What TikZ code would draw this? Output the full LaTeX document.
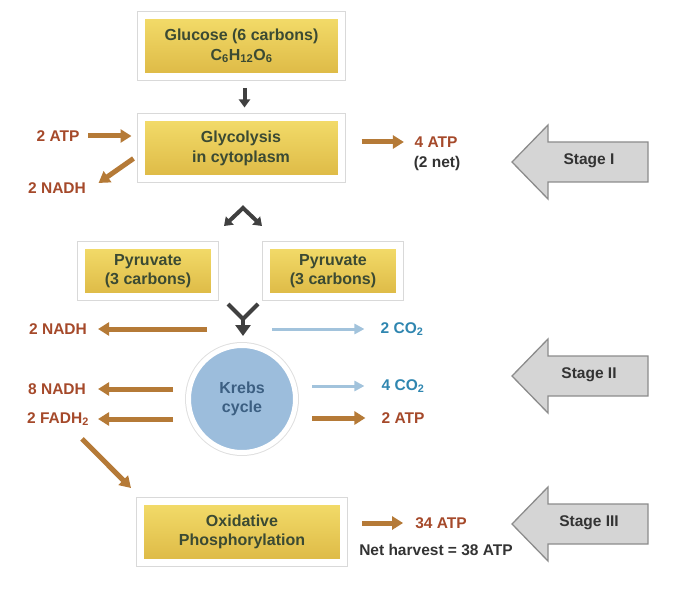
\documentclass[tikz,border=0pt]{standalone}
\usepackage{fontspec}
\setmainfont{Liberation Sans}
\usetikzlibrary{arrows.meta}
\definecolor{brn}{HTML}{B57A37}
\definecolor{brntxt}{HTML}{A5492A}
\definecolor{bluarr}{HTML}{A2C3DC}
\definecolor{tealtxt}{HTML}{2F86B0}
\definecolor{boxtop}{HTML}{F3DC6A}
\definecolor{boxbot}{HTML}{DDB945}
\definecolor{boxtxt}{HTML}{3B4A33}
\definecolor{krebsfill}{HTML}{9CBDDC}
\definecolor{krebstxt}{HTML}{3C5F82}
\definecolor{stagefill}{HTML}{D5D5D5}
\definecolor{stageline}{HTML}{8C8C8C}
\definecolor{darkarr}{HTML}{404040}
\definecolor{dtxt}{HTML}{333333}
\tikzset{
  txtfont/.style={font=\bfseries\fontsize{15.5}{19}\selectfont},
  boxfont/.style={font=\bfseries\fontsize{16}{19.5}\selectfont},
  box/.style={rectangle, minimum width=200pt, minimum height=61pt,
    top color=boxtop, bottom color=boxbot, draw=white, line width=7pt,
    preaction={draw=black!15, line width=9pt},
    text=boxtxt, boxfont, align=center},
  krebsnode/.style={circle, minimum size=107pt, fill=krebsfill, draw=white,
    line width=5pt, preaction={draw=black!12, line width=7pt},
    text=krebstxt, boxfont, align=center},
  lbl/.style={inner sep=0pt, txtfont, text=brntxt},
  lbldark/.style={inner sep=0pt, txtfont, text=dtxt},
  lblteal/.style={inner sep=0pt, txtfont, text=tealtxt},
  barr/.style={draw=brn, line width=5pt, -{Triangle[length=11pt,width=13pt]}},
  blarr/.style={draw=bluarr, line width=3pt, -{Triangle[length=10pt,width=10pt]}},
  darr/.style={draw=darkarr, line width=4pt, line join=miter},
  stagearrow/.style={fill=stagefill, draw=stageline, line width=1.3pt, line join=miter},
  stagetxt/.style={inner sep=0pt, txtfont, text=dtxt},
}
\begin{document}
\begin{tikzpicture}[x=1pt,y=-1pt]
\useasboundingbox (0,0) rectangle (700,593);

% boxes
\node[box] (glucose) at (241.5,46) {Glucose (6 carbons)\\C\textsubscript{6}H\textsubscript{12}O\textsubscript{6}};
\node[box] (glyco) at (241,148.5) {Glycolysis\\in cytoplasm};
\node[box, minimum width=133pt, minimum height=50pt] (pyrL) at (148,271) {Pyruvate\\(3 carbons)};
\node[box, minimum width=133pt, minimum height=50pt] (pyrR) at (333,271) {Pyruvate\\(3 carbons)};
\node[krebsnode] (krebs) at (242,399) {Krebs\\cycle};
\node[box, minimum width=203pt] (oxphos) at (242,532) {Oxidative\\Phosphorylation};

% labels
\node[lbl] (atpin) at (58,136) {2 ATP};
\node[lbl] (nadh1) at (57,188) {2 NADH};
\node[lbl] (atpout) at (436,142) {4 ATP};
\node[lbldark] (net2) at (437,163) {(2 net)};
\node[lbl] (nadh2) at (58,329) {2 NADH};
\node[lblteal] (co2a) at (402,329) {2 CO\textsubscript{2}};
\node[lbl] (nadh8) at (57,389) {8 NADH};
\node[lbl] (fadh) at (58,419) {2 FADH\textsubscript{2}};
\node[lblteal] (co2b) at (403,386) {4 CO\textsubscript{2}};
\node[lbl] (atp2) at (403,418) {2 ATP};
\node[lbl] (atp34) at (441,523) {34 ATP};
\node[lbldark] (net) at (436,550) {Net harvest = 38 ATP};

% stage I
\draw[stagearrow] (512,162) -- (548,125) -- (548,142) -- (648,142) -- (648,182) -- (548,182) -- (548,199) -- cycle;
\node[stagetxt] (s1) at (589,161) {Stage I};
% stage II
\draw[stagearrow] (512,376) -- (548,339) -- (548,356) -- (648,356) -- (648,396) -- (548,396) -- (548,413) -- cycle;
\node[stagetxt] (s2) at (589,375) {Stage II};
% stage III
\draw[stagearrow] (512,524) -- (548,487) -- (548,504) -- (648,504) -- (648,544) -- (548,544) -- (548,561) -- cycle;
\node[stagetxt] (s3) at (589,523) {Stage III};

% dark arrows
\draw[darr, -{Triangle[length=8pt,width=11pt]}] ([xshift=3pt,yshift=-8pt]glucose.south) -- ([xshift=3.5pt,yshift=7pt]glyco.north);
\coordinate (splitL) at (224,226);
\coordinate (splitT) at (243,208);
\coordinate (splitR) at (262,226);
\draw[darr, {Triangle[length=8pt,width=11pt]}-{Triangle[length=8pt,width=11pt]}] (splitL) -- (splitT) -- (splitR);
\coordinate (mergeL) at (228,304);
\coordinate (mergeB) at (243,319);
\coordinate (mergeR) at (258,304);
\coordinate (mergeTip) at (243,336);
\draw[darr] (mergeL) -- (mergeB) -- (mergeR);
\draw[darr, -{Triangle[length=11pt,width=15pt]}] (mergeB) -- (mergeTip);

% stage I arrows
\draw[barr] ([xshift=8.5pt]atpin.east) -- ([xshift=-6pt,yshift=12.5pt]glyco.west);
\draw[barr] ([xshift=-4pt,yshift=24pt]glyco.south west) -- ([xshift=12.5pt,yshift=5pt]nadh1.east);
\draw[barr] ([xshift=17pt,yshift=6.5pt]glyco.east) -- ([xshift=-10.5pt]atpout.west);

% stage II arrows
\draw[barr] ([xshift=21pt,yshift=70pt]krebs.west) -- ([xshift=11pt]nadh2.east);
\draw[blarr] ([xshift=-26pt,yshift=70pt]krebs.east) -- ([xshift=-16pt]co2a.west);
\draw[barr] ([xshift=-13pt,yshift=10pt]krebs.west) -- ([xshift=12pt]nadh8.east);
\draw[barr] ([xshift=-13pt,yshift=-20pt]krebs.west) -- ([xshift=9pt]fadh.east);
\draw[blarr] ([xshift=14pt,yshift=13pt]krebs.east) -- ([xshift=-17pt]co2b.west);
\draw[barr] ([xshift=14pt,yshift=-19pt]krebs.east) -- ([xshift=-16pt]atp2.west);

% stage III arrows
\draw[barr] ([xshift=24pt,yshift=-13pt]fadh.south) -- ([xshift=-6pt,yshift=10pt]oxphos.north west);
\draw[barr] ([xshift=15pt,yshift=9pt]oxphos.east) -- ([xshift=-12pt]atp34.west);
\end{tikzpicture}
\end{document}
